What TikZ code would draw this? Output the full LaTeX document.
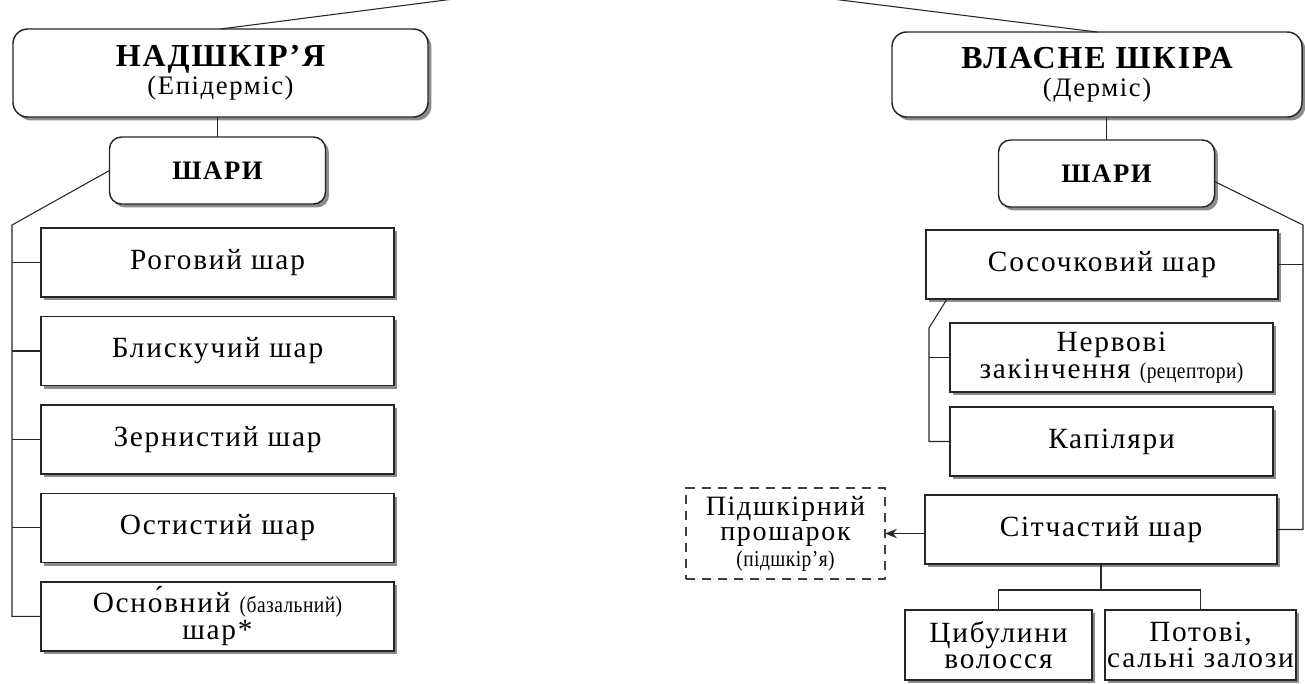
\documentclass[tikz,border=0pt]{standalone}
\usepackage{fontspec}
\setmainfont{Liberation Serif}[LetterSpace=6]
\newfontfamily\narrowfont{Liberation Serif}[FakeStretch=0.86, LetterSpace=2]
\usetikzlibrary{arrows.meta,positioning,calc,shadows}
\newcommand\headfont{\fontsize{24}{26}\selectfont\bfseries}
\newcommand\smallfont{\narrowfont\fontsize{17}{18}\selectfont}
\tikzset{
    shade box/.style={
        drop shadow={shadow xshift=2.6pt, shadow yshift=-2.6pt,
            fill=black!45, opacity=1}
    },
    head/.style={
        draw=black!85,
        line width=1.1pt,
        rounded corners=11pt,
        fill=white,
        align=center,
        inner sep=0pt, outer sep=0pt,
        minimum width=311.25pt,
        minimum height=66pt,
        font=\fontsize{20}{21}\selectfont,
        shade box
    },
    sub/.style={
        head,
        rounded corners=9pt,
        minimum width=162pt,
        minimum height=50.25pt,
        font=\fontsize{20}{21}\selectfont\bfseries
    },
    layer/.style={
        draw=black!85,
        line width=1pt,
        fill=white,
        align=center,
        inner sep=0pt, outer sep=0pt,
        minimum width=264.75pt,
        minimum height=51.75pt,
        font=\fontsize{22}{20}\selectfont,
        shade box
    },
    dashbox/.style={
        draw=black!75,
        line width=0.9pt,
        dash pattern=on 7pt off 5pt,
        align=center,
        inner sep=0pt, outer sep=0pt,
        minimum width=149.25pt,
        minimum height=68.25pt,
        font=\fontsize{21}{19}\selectfont
    },
    link/.style={draw=black!85, line width=0.8pt},
    arr/.style={link, -{Stealth[length=9pt, width=7pt, inset=3pt]}}
}

\begin{document}
\begin{tikzpicture}[x=0.75pt, y=-0.75pt, node distance=14.6pt]
\useasboundingbox (0,0) rectangle (1305,683);

% top level
\node[head] (epid) at (220.5,73) {{\headfont НАДШКІР’Я}\\(Епідерміс)};
\node[head, minimum width=307.5pt, minimum height=63.75pt] (derm) at (1097,74.5)
    {{\headfont ВЛАСНЕ ШКІРА}\\(Дерміс)};
\coordinate (apex) at (640,-25);
\draw[link] (epid.north) -- (apex) -- (derm.north);

\node[sub] (lshari) at (217.5,170.5) {ШАРИ};
\node[sub] (rshari) at (1106.5,173.5) {ШАРИ};
\draw[link] (epid.south -| lshari) -- (lshari.north);
\draw[link] (derm.south -| rshari) -- (rshari.north);

% epidermis layers
\node[layer] (horny) at (217.5,262.5) {Роговий шар};
\node[layer, below=of horny] (lucid) {Блискучий шар};
\node[layer, below=of lucid] (granul) {Зернистий шар};
\node[layer, below=of granul] (spinous) {Остистий шар};
\node[layer, below=of spinous] (basal) {Осно́вний {\smallfont(базальний)}\\шар*};

\coordinate (ltrunk) at (12,225);
\draw[link] (lshari.west) -- (ltrunk) |- (basal.west);
\foreach \n in {horny,lucid,granul,spinous}
    \draw[link] (ltrunk |- \n.west) -- (\n.west);

% dermis layers
\node[layer, minimum width=264pt] (papil) at (1102,264.5) {Сосочковий шар};
\node[layer, minimum width=242.25pt] (nerve) at (1111.5,357.5)
    {Нервові\\закінчення {\smallfont(рецептори)}};
\node[layer, minimum width=242.25pt, below=11.25pt of nerve] (capil) {Капіляри};
\node[layer, minimum width=264pt] (retic) at (1101,529.5) {Сітчастий шар};
\node[dashbox] (subcut) at (785.5,533.5) {Підшкірний\\прошарок\\{\smallfont(підшкір’я)}};
\node[layer, minimum width=140.25pt, minimum height=52.5pt] (hair) at (998.5,645)
    {Цибулини\\волосся};
\node[layer, minimum width=143.25pt, minimum height=52.5pt] (gland) at (1200.5,645)
    {Потові,\\сальні залози};

\coordinate (rtrunk) at (1303,225);
\draw[link] ([yshift=-6pt]rshari.east) -- (rtrunk) |- (retic.east);
\draw[link] (rtrunk |- papil.east) -- (papil.east);

\coordinate (itrunk) at (929,328);
\draw[link] ([xshift=15.75pt]papil.south west) -- (itrunk) |- (capil.west);
\draw[link] (itrunk |- nerve.west) -- (nerve.west);

\draw[arr] (retic.west |- subcut) -- (subcut.east);
\draw[link] (retic.south) -- ++(0,26) coordinate (split);
\draw[link] (hair.north) |- (split) -| (gland.north);

\end{tikzpicture}
\end{document}
